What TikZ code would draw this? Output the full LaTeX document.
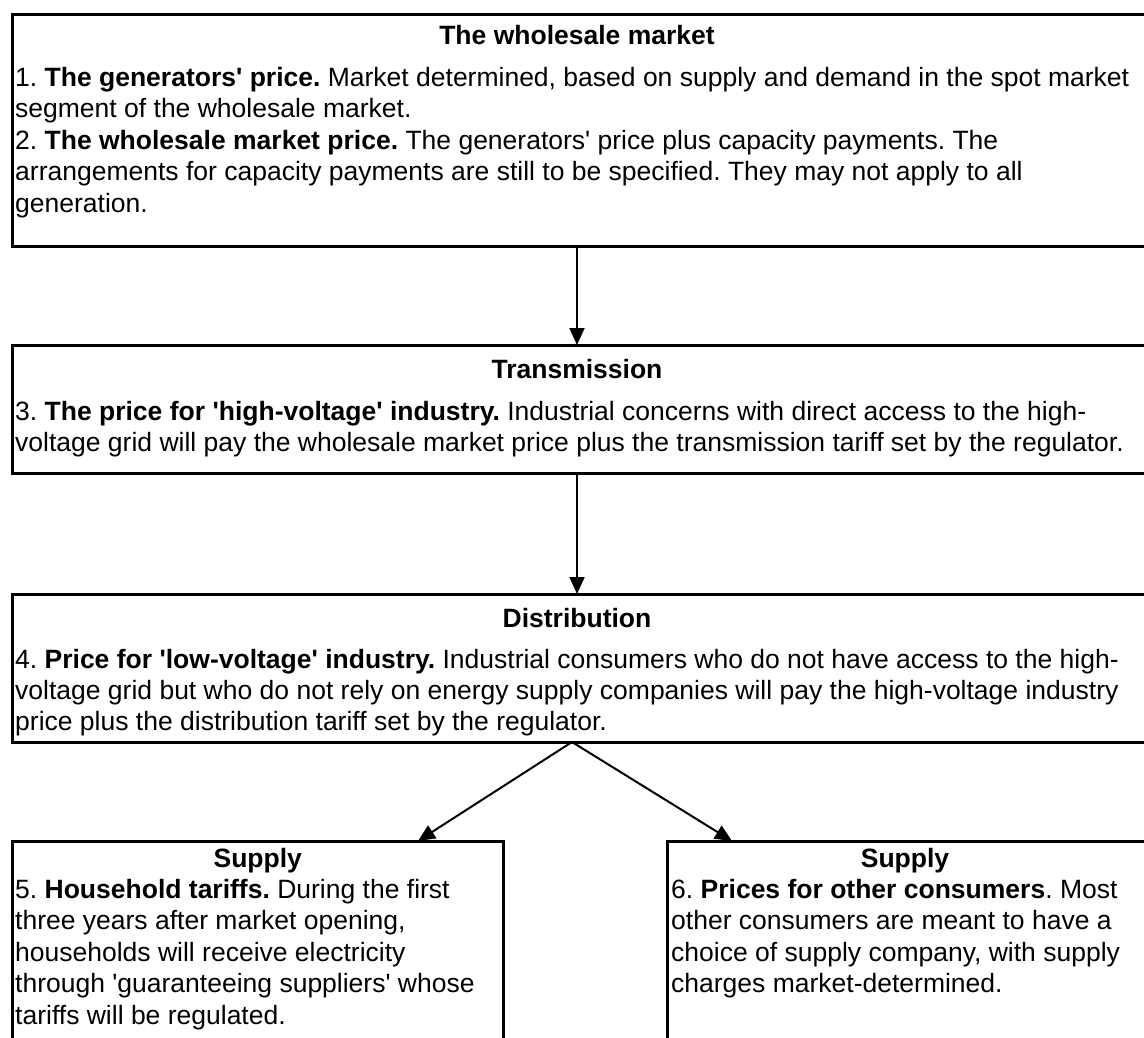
\documentclass[tikz,border=0pt]{standalone}
\usepackage{fontspec}
\newfontfamily\arial{Liberation Sans}
\usetikzlibrary{arrows.meta}
\newcommand\myfs{\arial\frenchspacing\fontsize{26.6}{31.5}\selectfont}
\begin{document}
\frenchspacing
\begin{tikzpicture}[x=1bp,y=-1bp,
  box/.style={draw, line width=3bp, rectangle, inner sep=0pt, outer sep=0pt, anchor=north west},
  hd/.style={anchor=base, inner sep=0pt, font=\myfs\bfseries},
  tx/.style={anchor=base west, inner sep=0pt, font=\myfs},
  arr/.style={line width=2bp, -{Triangle[length=17bp,width=15bp]}}]
\path[use as bounding box] (0,0) rectangle (1144,1038);
\fill[white] (0,0) rectangle (1144,1038);
\clip (0,0) rectangle (1144,1038);

% boxes
\node[box, minimum width=1137.5bp, minimum height=232.5bp] (b1) at (12.5,14) {};
\node[box, minimum width=1137.5bp, minimum height=128bp] (b2) at (12.5,345) {};
\node[box, minimum width=1137.5bp, minimum height=148bp] (b3) at (12.5,594) {};
\node[box, minimum width=490.5bp, minimum height=220bp] (b4) at (12.5,841) {};
\node[box, minimum width=483bp, minimum height=220bp] (b5) at (667,841) {};

% box 1 text
\node[hd] (h1) at (577,44) {The wholesale market};
\node[tx] (t11) at (15,86) {1. \textbf{The generators' price.} Market determined, based on supply and demand in the spot market};
\node[tx] (t12) at (15,117.5) {segment of the wholesale market.};
\node[tx] (t13) at (15,149) {2. \textbf{The wholesale market price.} The generators' price plus capacity payments. The};
\node[tx] (t14) at (15,180.5) {arrangements for capacity payments are still to be specified. They may not apply to all};
\node[tx] (t15) at (15,212) {generation.};

% box 2 text
\node[hd] (h2) at (577,378) {Transmission};
\node[tx] (t21) at (15,420) {3. \textbf{The price for 'high-voltage' industry.} Industrial concerns with direct access to the high-};
\node[tx] (t22) at (15,451) {voltage grid will pay the wholesale market price plus the transmission tariff set by the regulator.};

% box 3 text
\node[hd] (h3) at (577,627) {Distribution};
\node[tx] (t31) at (15,668) {4. \textbf{Price for 'low-voltage' industry.} Industrial consumers who do not have access to the high-};
\node[tx] (t32) at (15,699) {voltage grid but who do not rely on energy supply companies will pay the high-voltage industry};
\node[tx] (t33) at (15,730) {price plus the distribution tariff set by the regulator.};

% box 4 text
\node[hd] (h4) at (257.75,867) {Supply};
\node[tx] (t41) at (15,898) {5. \textbf{Household tariffs.} During the first};
\node[tx] (t42) at (15,929.5) {three years after market opening,};
\node[tx] (t43) at (15,961) {households will receive electricity};
\node[tx] (t44) at (15,992.5) {through 'guaranteeing suppliers' whose};
\node[tx] (t45) at (15,1024) {tariffs will be regulated.};

% box 5 text
\node[hd] (h5) at (905,867) {Supply};
\node[tx] (t51) at (671,898) {6. \textbf{Prices for other consumers}. Most};
\node[tx] (t52) at (671,929.5) {other consumers are meant to have a};
\node[tx] (t53) at (671,961) {choice of supply company, with supply};
\node[tx] (t54) at (671,992.5) {charges market-determined.};

% connectors
\coordinate (ax) at (577,0);
\coordinate (apex) at (572,742);
\coordinate (tip4) at (418,841);
\coordinate (tip5) at (732,841);
\draw[arr] (b1.south -| ax) -- (b2.north -| ax);
\draw[arr] (b2.south -| ax) -- (b3.north -| ax);
\draw[arr] (apex) -- (tip4);
\draw[arr] (apex) -- (tip5);
\end{tikzpicture}
\end{document}
